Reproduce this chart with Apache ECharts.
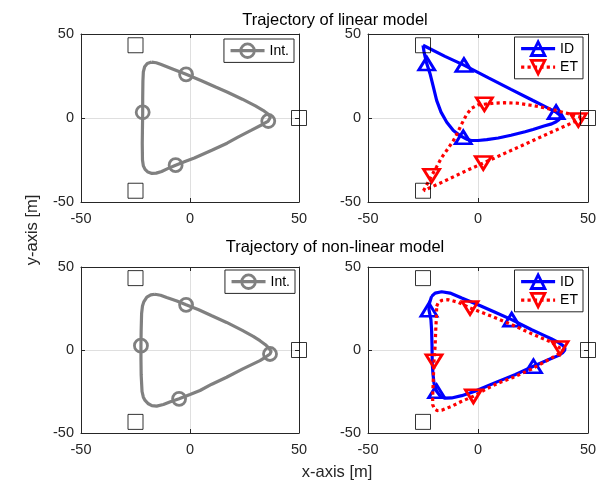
<!DOCTYPE html>
<html><head><meta charset="utf-8">
<script src="https://cdn.jsdelivr.net/npm/echarts@6/dist/echarts.min.js"></script>
<style>html,body{margin:0;padding:0;background:#fff}#c{width:613px;height:481px}</style>
</head><body><div id="c"></div>
<script>
const FONT = '"Liberation Sans", Arial, Helvetica, sans-serif';

// ---- data ----
const axisMin = -50, axisMax = 50, axisStep = 50;
const panelTitles = ['Trajectory of linear model', 'Trajectory of non-linear model'];
const xLabel = 'x-axis [m]';
const yLabel = 'y-axis [m]';
const landmarks = [[-25, 43.3], [50, 0], [-25, -43.3]];

// linear model, integrator trajectory
const intLinear = [[-17.6,33.3],[-15.5,32.9],[-13.5,32.0],[-8.0,29.2],[-1.8,26.0],[5.0,22.3],[12.0,18.3],[17.0,15.5],[24.0,11.2],[30.0,7.2],[33.5,4.6],[35.8,2.4],[36.9,0.5],[35.9,-1.8],[33.0,-4.0],[28.0,-7.4],[22.0,-11.4],[17.0,-15.0],[10.0,-19.2],[2.0,-23.8],[-2.0,-25.8],[-6.6,-28.1],[-10.0,-30.0],[-13.0,-31.8],[-15.5,-32.8],[-17.5,-33.0],[-19.3,-32.2],[-20.6,-30.6],[-21.4,-28.5],[-21.8,-25.0],[-21.9,-15.0],[-21.8,-5.0],[-21.7,3.4],[-21.7,12.0],[-21.6,22.0],[-21.4,27.5],[-20.8,30.5],[-19.6,32.4],[-17.6,33.3]];
const intLinearMarks = [[-1.8,26.0],[35.9,-1.8],[-6.6,-28.1],[-21.7,3.4]];

// linear model, ID trajectory
const idLinear = [[-25.0,43.3],[-15.0,36.7],[-6.4,31.5],[5.0,23.7],[15.0,17.0],[25.0,10.4],[31.0,6.5],[35.5,3.5],[37.0,2.0],[37.5,0.5],[36.8,-1.0],[35.5,-2.2],[33.5,-3.5],[30.0,-4.8],[25.0,-6.8],[21.4,-8.2],[15.0,-10.3],[9.2,-11.9],[4.0,-12.9],[0.0,-13.4],[-3.0,-13.4],[-5.2,-12.6],[-6.7,-11.5],[-8.5,-10.2],[-11.2,-7.5],[-14.2,-2.5],[-16.8,3.5],[-18.8,10.5],[-20.3,18.5],[-21.8,26.4],[-23.3,32.4],[-24.4,38.4],[-25.0,43.3]];
const idLinearMarks = [[-6.4,31.5],[35.5,3.5],[-6.7,-11.5],[-23.3,32.4]];

// linear model, ET trajectory
const etLinear = [[-24.8,-43.3],[-23.0,-39.0],[-21.1,-34.4],[-18.8,-29.0],[-16.5,-23.5],[-13.8,-18.5],[-11.2,-13.5],[-9.2,-8.5],[-7.4,-3.5],[-5.2,2.0],[-2.9,5.8],[0.0,7.8],[2.9,8.2],[7.0,8.8],[12.0,9.1],[18.0,8.8],[24.0,7.6],[30.0,6.2],[36.0,4.3],[41.0,2.6],[45.0,1.2],[47.8,0.2],[45.6,-1.2],[40.0,-4.5],[30.0,-10.4],[20.0,-16.4],[10.0,-22.3],[2.4,-26.8],[-5.0,-31.2],[-15.0,-37.4],[-24.8,-43.3]];
const etLinearMarks = [[-21.1,-34.4],[2.9,8.2],[45.6,-1.2],[2.4,-26.8]];

// non-linear model, integrator trajectory
const intNonlinear = [[-16.1,33.6],[-13.5,33.0],[-10.7,31.6],[-6.0,29.5],[-1.8,27.2],[4.0,24.2],[10.0,20.6],[16.8,16.6],[24.0,11.8],[29.0,8.2],[32.1,5.6],[34.6,3.2],[36.3,1.0],[37.2,-0.8],[36.7,-2.4],[34.5,-4.4],[32.1,-6.4],[24.0,-11.5],[16.8,-16.4],[10.0,-20.6],[4.6,-24.4],[0.0,-26.8],[-5.0,-29.4],[-9.0,-31.2],[-12.2,-32.8],[-15.3,-33.8],[-17.5,-33.5],[-19.1,-32.4],[-20.6,-30.4],[-21.4,-28.4],[-22.0,-25.0],[-22.4,-15.0],[-22.5,-5.0],[-22.5,2.6],[-22.4,12.0],[-22.2,22.0],[-21.8,26.5],[-21.2,29.0],[-19.8,31.8],[-18.0,33.2],[-16.1,33.6]];
const intNonlinearMarks = [[-1.8,27.2],[36.7,-2.4],[-5.0,-29.4],[-22.5,2.6]];

// non-linear model, ID trajectory
const idNonlinear = [[-21.1,32.3],[-19.5,34.3],[-16.5,35.1],[-12.7,34.3],[-7.4,31.3],[0.0,27.3],[7.0,23.2],[15.3,18.3],[24.4,12.2],[30.0,8.8],[33.5,6.6],[36.5,4.6],[38.5,2.8],[39.5,1.2],[39.4,-0.2],[38.5,-1.6],[36.5,-3.4],[33.0,-5.3],[25.2,-9.8],[16.8,-14.9],[9.2,-18.9],[4.0,-21.8],[-1.4,-24.9],[-7.4,-27.5],[-12.0,-28.9],[-15.0,-29.0],[-17.0,-28.0],[-18.8,-24.9],[-20.0,-20.0],[-20.5,-14.0],[-20.8,-7.8],[-20.9,2.2],[-21.1,12.2],[-21.4,18.3],[-22.3,24.3],[-22.0,28.5],[-21.1,32.3]];
const idNonlinearMarks = [[15.3,18.3],[25.2,-9.8],[-18.8,-24.9],[-22.3,24.3]];

// non-linear model, ET trajectory
const etNonlinear = [[-18.8,26.3],[-18.0,28.7],[-16.5,29.9],[-13.5,30.3],[-8.9,28.7],[-3.6,25.3],[1.0,23.0],[6.2,20.3],[15.3,15.3],[24.4,9.8],[33.5,4.6],[37.3,1.2],[39.0,0.8],[39.2,0.0],[38.0,-1.4],[33.5,-4.8],[24.4,-11.4],[16.0,-16.5],[9.2,-19.9],[3.0,-24.0],[-2.1,-27.9],[-7.4,-30.9],[-12.0,-33.9],[-16.5,-36.3],[-18.5,-36.5],[-19.8,-35.6],[-20.6,-32.9],[-20.6,-27.9],[-20.3,-17.0],[-20.0,-6.8],[-19.5,2.2],[-19.2,12.2],[-18.9,20.3],[-18.8,26.3]];
const etNonlinearMarks = [[-3.6,25.3],[37.3,1.2],[-2.1,-27.9],[-20.0,-6.8]];

// ---- layout / style ----
const grids = [
  {left: 81, top: 34, width: 218, height: 168},
  {left: 368, top: 34, width: 220, height: 168},
  {left: 81, top: 267, width: 218, height: 166},
  {left: 368, top: 267, width: 220, height: 166}
];
const AX = '#262626';
const GRIDC = '#dfdfdf';
const GRAY = '#808080', BLUE = '#0000ff', RED = '#ff0000';
const DOWN_TRI = 'path://M0,0L20,0L10,17.3Z';

const xAxes = [], yAxes = [];
grids.forEach((g, i) => {
  const base = {
    gridIndex: i, type: 'value', min: axisMin, max: axisMax, interval: axisStep,
    axisLine: {show: true, onZero: false, lineStyle: {color: AX, width: 1}},
    axisTick: {show: true, inside: true, length: 4, lineStyle: {color: AX, width: 1}},
    axisLabel: {show: true, color: AX, fontSize: 14.5, fontFamily: FONT, margin: 9},
    splitLine: {show: true, lineStyle: {color: GRIDC, width: 1}}
  };
  xAxes.push(Object.assign({}, base, {position: 'bottom'}));
  xAxes.push(Object.assign({}, base, {position: 'top', axisLabel: {show: false}, splitLine: {show: false}}));
  yAxes.push(Object.assign({}, base, {position: 'left', axisLabel: {show: true, color: AX, fontSize: 14.5, fontFamily: FONT, margin: 7}}));
  yAxes.push(Object.assign({}, base, {position: 'right', axisLabel: {show: false}, splitLine: {show: false}}));
});

function same(a, b) { return a[0] === b[0] && a[1] === b[1]; }
function traj(name, gi, pts, marks, color, symbol, size, dotted, z) {
  return {
    type: 'line', name: name, xAxisIndex: 2 * gi, yAxisIndex: 2 * gi,
    data: pts.map(p => marks.some(m => same(m, p)) ? {value: p} : {value: p, symbol: 'none'}),
    symbol: symbol, symbolSize: size, showAllSymbol: true,
    itemStyle: {color: 'rgba(255,255,255,0)', borderColor: color, borderWidth: 2.8},
    lineStyle: {color: color, width: 3.2, type: dotted ? 'dotted' : 'solid', cap: 'butt'},
    emphasis: {disabled: true}, silent: true, clip: false, z: z, animation: false
  };
}
function lm(gi) {
  return {
    type: 'scatter', name: 'landmark', xAxisIndex: 2 * gi, yAxisIndex: 2 * gi,
    data: landmarks, symbol: 'rect', symbolSize: 15,
    itemStyle: {color: 'rgba(255,255,255,0)', borderColor: '#000', borderWidth: 1},
    emphasis: {disabled: true}, silent: true, clip: false, z: 5, animation: false
  };
}

const series = [
  traj('Int.', 0, intLinear, intLinearMarks, GRAY, 'circle', 13, false, 2),
  lm(0),
  traj('ID', 1, idLinear, idLinearMarks, BLUE, 'triangle', [16, 13], false, 2),
  traj('ET', 1, etLinear, etLinearMarks, RED, DOWN_TRI, [16, 13], true, 3),
  lm(1),
  traj('Int.', 2, intNonlinear, intNonlinearMarks, GRAY, 'circle', 13, false, 2),
  lm(2),
  traj('ID', 3, idNonlinear, idNonlinearMarks, BLUE, 'triangle', [16, 13], false, 2),
  traj('ET', 3, etNonlinear, etNonlinearMarks, RED, DOWN_TRI, [16, 13], true, 3),
  lm(3)
];

function legend(names, right, top) {
  return {
    data: names, orient: 'vertical', right: right, top: top,
    backgroundColor: '#fff', borderColor: AX, borderWidth: 1, borderRadius: 0,
    padding: [3.5, 5, 3.5, 5], itemWidth: 34, itemHeight: 17, itemGap: 2,
    selectedMode: false,
    lineStyle: {width: 3.2},
    itemStyle: {borderWidth: 2.8},
    textStyle: {fontSize: 14, color: '#000', fontFamily: FONT}
  };
}

const chart = echarts.init(document.getElementById('c'), null, {renderer: 'canvas'});
chart.setOption({
  animation: false,
  backgroundColor: '#fff',
  title: [
    {text: panelTitles[0], left: 335, top: 12, textAlign: 'center', padding: 0,
     textStyle: {fontSize: 16.5, fontWeight: 'normal', color: '#000', fontFamily: FONT}},
    {text: panelTitles[1], left: 335, top: 239, textAlign: 'center', padding: 0,
     textStyle: {fontSize: 16.5, fontWeight: 'normal', color: '#000', fontFamily: FONT}}
  ],
  grid: grids.map(g => Object.assign({containLabel: false, show: false}, g)),
  xAxis: xAxes,
  yAxis: yAxes,
  legend: [
    legend(['Int.'], 319, 39),
    legend(['ID', 'ET'], 30, 37),
    legend(['Int.'], 318, 270),
    legend(['ID', 'ET'], 30, 270)
  ],
  series: series,
  graphic: [
    {type: 'text', x: 337, y: 472, silent: true,
     style: {text: xLabel, textAlign: 'center', textVerticalAlign: 'middle', fontSize: 16.5, fontFamily: FONT, fill: AX}},
    {type: 'text', x: 32, y: 230, rotation: Math.PI / 2, silent: true,
     style: {text: yLabel, textAlign: 'center', textVerticalAlign: 'middle', fontSize: 16.5, fontFamily: FONT, fill: AX}}
  ]
});
</script>
</body></html>
